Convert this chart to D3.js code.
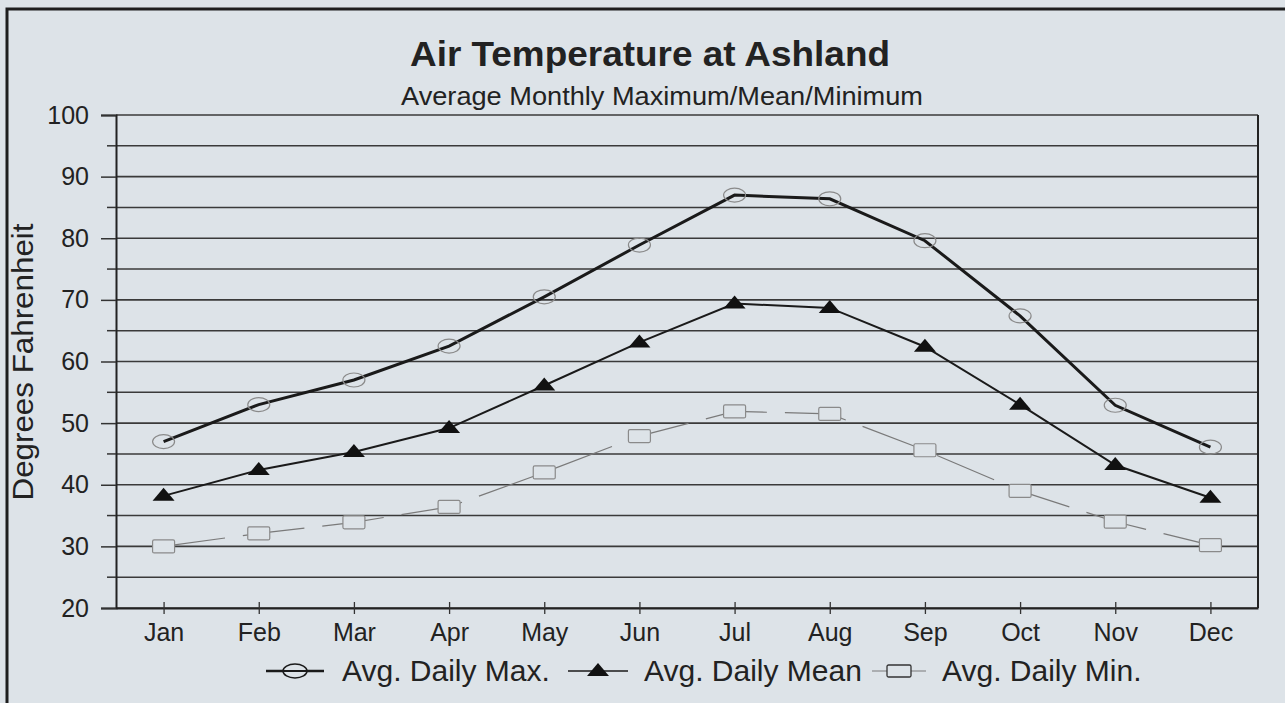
<!DOCTYPE html>
<html><head><meta charset="utf-8">
<script src="https://cdn.jsdelivr.net/npm/d3@7"></script>
<style>
html,body{margin:0;padding:0;background:#dde3e8;}
svg{display:block;font-family:Arial,"Liberation Sans",sans-serif;}
</style></head>
<body><svg id="c" width="1285" height="703"></svg>
<script>
const months = ["Jan","Feb","Mar","Apr","May","Jun","Jul","Aug","Sep","Oct","Nov","Dec"];
const maxVals  = [47, 53, 57, 62.5, 70.5, 78.9, 87, 86.4, 79.6, 67.4, 52.9, 46.1];
const meanVals = [38.2, 42.4, 45.3, 49.2, 56.1, 63.1, 69.4, 68.7, 62.4, 53, 43.2, 37.9];
const minVals  = [30, 32.1, 33.9, 36.4, 42, 47.9, 51.9, 51.5, 45.6, 39, 34, 30.2];
const yTicks = [20,30,40,50,60,70,80,90,100];
const yMinor = [25,35,45,55,65,75,85,95];
const title = "Air Temperature at Ashland";
const subtitle = "Average Monthly Maximum/Mean/Minimum";
const yTitle = "Degrees Fahrenheit";
const legendNames = ["Avg. Daily Max.","Avg. Daily Mean","Avg. Daily Min."];

const svg = d3.select("#c");
const bg = "#dde3e8";
const font = "Arial,'Liberation Sans',sans-serif";
svg.append("rect").attr("width",1285).attr("height",703).attr("fill",bg);
// outer frame
svg.append("path").attr("d","M7,703 L7,9 L1285,9").attr("fill","none").attr("stroke","#1e1e1e").attr("stroke-width",3);

const L=116, R=1258, T=115, B=608;
const x = d3.scalePoint().domain(months).range([L,R]).padding(0.5);
const y = d3.scaleLinear().domain([20,100]).range([B,T]);

// gridlines
svg.append("g").selectAll("line").data(yTicks.concat(yMinor)).join("line")
  .attr("x1",L).attr("x2",R).attr("y1",d=>y(d)).attr("y2",d=>y(d))
  .attr("stroke","#3a3a3a").attr("stroke-width",1.6);
svg.append("line").attr("x1",R).attr("x2",R).attr("y1",T).attr("y2",B).attr("stroke","#222").attr("stroke-width",2);

// y axis
const yAxis = d3.axisLeft(y).tickValues(yTicks).tickSize(15).tickPadding(12);
const ya = svg.append("g").attr("transform",`translate(${L},0)`).call(yAxis);
ya.select(".domain").attr("stroke","#222").attr("stroke-width",2);
ya.selectAll(".tick line").attr("stroke","#333").attr("stroke-width",1.5);
ya.selectAll("text").attr("font-size",25).attr("fill","#222").attr("font-family",font);
svg.append("g").selectAll("line").data(yMinor).join("line")
  .attr("x1",L-9).attr("x2",L).attr("y1",d=>y(d)).attr("y2",d=>y(d))
  .attr("stroke","#333").attr("stroke-width",1.5);

// x axis
const xAxis = d3.axisBottom(x).tickSize(6).tickPadding(9).tickSizeOuter(0);
const xa = svg.append("g").attr("transform",`translate(0,${B})`).call(xAxis);
xa.select(".domain").attr("stroke","#222").attr("stroke-width",2);
xa.selectAll(".tick line").attr("y1",-6).attr("stroke","#333").attr("stroke-width",1.3);
xa.selectAll("text").attr("font-size",25).attr("fill","#222").attr("font-family",font);

// titles
svg.append("text").attr("x",650).attr("y",66).attr("text-anchor","middle")
  .attr("font-size",35).attr("font-weight","bold").attr("fill","#222")
  .attr("textLength",480).attr("lengthAdjust","spacingAndGlyphs").text(title);
svg.append("text").attr("x",662).attr("y",105).attr("text-anchor","middle")
  .attr("font-size",26).attr("fill","#222")
  .attr("textLength",522).attr("lengthAdjust","spacingAndGlyphs").text(subtitle);
svg.append("text").attr("transform","translate(33,362) rotate(-90)").attr("text-anchor","middle")
  .attr("font-size",30).attr("fill","#222").attr("textLength",277).attr("lengthAdjust","spacingAndGlyphs").text(yTitle);

const line = d3.line().x((d,i)=>x(months[i])).y(d=>y(d));

// min series
svg.append("path").datum(minVals).attr("d",line).attr("fill","none")
  .attr("stroke","#7a7a7a").attr("stroke-width",1.2).attr("stroke-dasharray","62,18");
// mean series
svg.append("path").datum(meanVals).attr("d",line).attr("fill","none")
  .attr("stroke","#1a1a1a").attr("stroke-width",2);
// max series
svg.append("path").datum(maxVals).attr("d",line).attr("fill","none")
  .attr("stroke","#1a1a1a").attr("stroke-width",3);

function circ(g){ g.append("ellipse").attr("rx",11).attr("ry",7).attr("fill","none").attr("stroke","#8a8a8a").attr("stroke-width",1.2); }
function tri(g){ g.append("path").attr("d","M0,-8 L11,5 L-11,5 Z").attr("fill","#111"); }
function sq(g){ g.append("rect").attr("x",-11).attr("y",-6.5).attr("width",22).attr("height",13).attr("rx",1.5).attr("fill",bg).attr("stroke","#8a8a8a").attr("stroke-width",1.2); }

svg.append("g").selectAll("g").data(minVals).join("g").attr("transform",(d,i)=>`translate(${x(months[i])},${y(d)})`).each(function(){sq(d3.select(this));});
svg.append("g").selectAll("g").data(meanVals).join("g").attr("transform",(d,i)=>`translate(${x(months[i])},${y(d)})`).each(function(){tri(d3.select(this));});
svg.append("g").selectAll("g").data(maxVals).join("g").attr("transform",(d,i)=>`translate(${x(months[i])},${y(d)})`).each(function(){circ(d3.select(this));});

// legend
const legY = 671;
const leg = [
  {x0:266, x1:324, text:342, sym:"c", stroke:"#1a1a1a", sw:2.5},
  {x0:568, x1:628, text:644, sym:"t", stroke:"#1a1a1a", sw:1.5},
  {x0:872, x1:926, text:942, sym:"s", stroke:"#7a7a7a", sw:1.2}
];
leg.forEach((l,i)=>{
  svg.append("line").attr("x1",l.x0).attr("x2",l.x1).attr("y1",legY).attr("y2",legY).attr("stroke",l.stroke).attr("stroke-width",l.sw);
  const g = svg.append("g").attr("transform",`translate(${(l.x0+l.x1)/2},${legY})`);
  if(l.sym==="c"){ g.append("ellipse").attr("rx",12).attr("ry",7).attr("fill",bg).attr("stroke","#1a1a1a").attr("stroke-width",1.5);
    g.append("line").attr("x1",-12).attr("x2",12).attr("stroke","#1a1a1a").attr("stroke-width",2); }
  if(l.sym==="t") tri(g);
  if(l.sym==="s") g.append("rect").attr("x",-12).attr("y",-6).attr("width",24).attr("height",12).attr("rx",1.5).attr("fill",bg).attr("stroke","#333").attr("stroke-width",1.3);
  svg.append("text").attr("x",l.text).attr("y",legY+10).attr("font-size",30).attr("fill","#222").text(legendNames[i]);
});
</script></body></html>
